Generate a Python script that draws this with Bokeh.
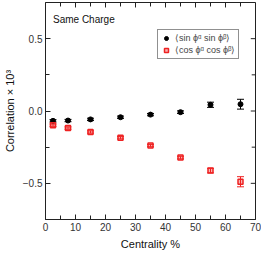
from bokeh.plotting import figure
from bokeh.models import (ColumnDataSource, Whisker, TeeHead, FixedTicker,
                          Legend, LegendItem, Label, Range1d)
from bokeh.embed import file_html
from bokeh.resources import INLINE

centrality = [2.5, 7.5, 15, 25, 35, 45, 55, 65]
sin_vals = [-0.068, -0.066, -0.058, -0.043, -0.025, -0.008, 0.043, 0.047]
sin_err = [0.008, 0.008, 0.008, 0.008, 0.008, 0.009, 0.018, 0.034]
cos_vals = [-0.098, -0.118, -0.145, -0.185, -0.239, -0.322, -0.412, -0.489]
cos_err = [0.008, 0.008, 0.008, 0.008, 0.008, 0.009, 0.016, 0.035]
x_ticks = [0, 10, 20, 30, 40, 50, 60, 70]
x_minor = [5, 15, 25, 35, 45, 55, 65]
y_ticks = [-0.5, 0.0, 0.5]
y_minor = [-0.25, 0.25]
y_tick_labels = ["\u22120.5", "0.0", "0.5"]
label_sin = "\u27e8sin \u03d5\u1d45 sin \u03d5\u1d5d\u27e9"
label_cos = "\u27e8cos \u03d5\u1d45 cos \u03d5\u1d5d\u27e9"

FONT = "Liberation Sans"
X0, X1, Y0, Y1 = 0, 70, -0.75, 0.75
W, H = 261, 252
BL, BR, BT, BB = 33, 6, 2, 32

p = figure(width=W, height=H, output_backend="svg", toolbar_location=None,
           x_range=Range1d(X0, X1), y_range=Range1d(Y0, Y1),
           min_border_left=BL, min_border_right=BR, min_border_top=BT, min_border_bottom=BB,
           x_axis_label="Centrality %", y_axis_label="Correlation \u00d7 10\u00b3")
p.grid.visible = False
p.outline_line_color = "#222222"
p.outline_line_width = 1
p.background_fill_color = "white"

for ax in (p.xaxis[0], p.yaxis[0]):
    ax.major_tick_in = 5
    ax.major_tick_out = 0
    ax.minor_tick_in = 4
    ax.minor_tick_out = 0
    ax.axis_line_color = "#222222"
    ax.major_tick_line_color = "#222222"
    ax.minor_tick_line_color = "#222222"
    ax.major_label_text_font = FONT
    ax.major_label_text_font_size = "10px"
    ax.major_label_text_color = "#333333"
    ax.axis_label_text_font = FONT
    ax.axis_label_text_font_size = "11px"
    ax.axis_label_text_font_style = "normal"
    ax.axis_label_text_color = "#111111"
    ax.axis_label_standoff = 4
    ax.major_label_standoff = 3

p.xaxis.ticker = FixedTicker(ticks=x_ticks, minor_ticks=x_minor)
p.yaxis.ticker = FixedTicker(ticks=y_ticks, minor_ticks=y_minor)
p.yaxis.major_label_overrides = {t: l for t, l in zip(y_ticks, y_tick_labels)}

# mirrored ticks on top and right frame edges (from the tick lists)
frame_w = W - BL - BR
frame_h = H - BT - BB
dy_major = 5 * (Y1 - Y0) / frame_h
dy_minor = 4 * (Y1 - Y0) / frame_h
dx_major = 5 * (X1 - X0) / frame_w
dx_minor = 4 * (X1 - X0) / frame_w
tx = x_ticks + x_minor
tlen = [dy_major] * len(x_ticks) + [dy_minor] * len(x_minor)
p.segment(x0=tx, x1=tx, y0=[Y1] * len(tx), y1=[Y1 - d for d in tlen],
          line_color="#222222", line_width=1)
ty = y_ticks + y_minor
tlx = [dx_major] * len(y_ticks) + [dx_minor] * len(y_minor)
p.segment(x0=[X1] * len(ty), x1=[X1 - d for d in tlx], y0=ty, y1=ty,
          line_color="#222222", line_width=1)

src_sin = ColumnDataSource(dict(x=centrality, y=sin_vals,
                                lo=[v - e for v, e in zip(sin_vals, sin_err)],
                                hi=[v + e for v, e in zip(sin_vals, sin_err)]))
src_cos = ColumnDataSource(dict(x=centrality, y=cos_vals,
                                lo=[v - e for v, e in zip(cos_vals, cos_err)],
                                hi=[v + e for v, e in zip(cos_vals, cos_err)]))

for src, col in ((src_sin, "black"), (src_cos, "#ee2222")):
    w = Whisker(source=src, base="x", upper="hi", lower="lo", line_color=col, line_width=1,
                upper_head=TeeHead(size=7, line_color=col, line_width=1),
                lower_head=TeeHead(size=7, line_color=col, line_width=1))
    p.add_layout(w)

r_sin = p.scatter("x", "y", source=src_sin, marker="circle", size=5,
                  fill_color="black", line_color="black")
r_cos = p.scatter("x", "y", source=src_cos, marker="square", size=5,
                  fill_color="#ee2222", fill_alpha=0.35, line_color="#ee2222", line_width=1.5)

legend = Legend(items=[LegendItem(label=label_sin, renderers=[r_sin]),
                       LegendItem(label=label_cos, renderers=[r_cos])],
                location=(112, 160))
legend.label_text_font = FONT
legend.label_text_font_size = "9px"
legend.label_height = 10
legend.glyph_height = 10
legend.glyph_width = 10
legend.label_standoff = 4
legend.spacing = 2
legend.padding = 3
legend.margin = 0
legend.border_line_color = "#222222"
legend.border_line_width = 1
legend.background_fill_alpha = 1
p.add_layout(legend, "center")

p.add_layout(Label(x=2.5, y=0.635, text="Same Charge", text_font=FONT,
                   text_font_size="10px", text_baseline="middle", text_color="#111111"))

open("out.html", "w").write(file_html(p, INLINE))
